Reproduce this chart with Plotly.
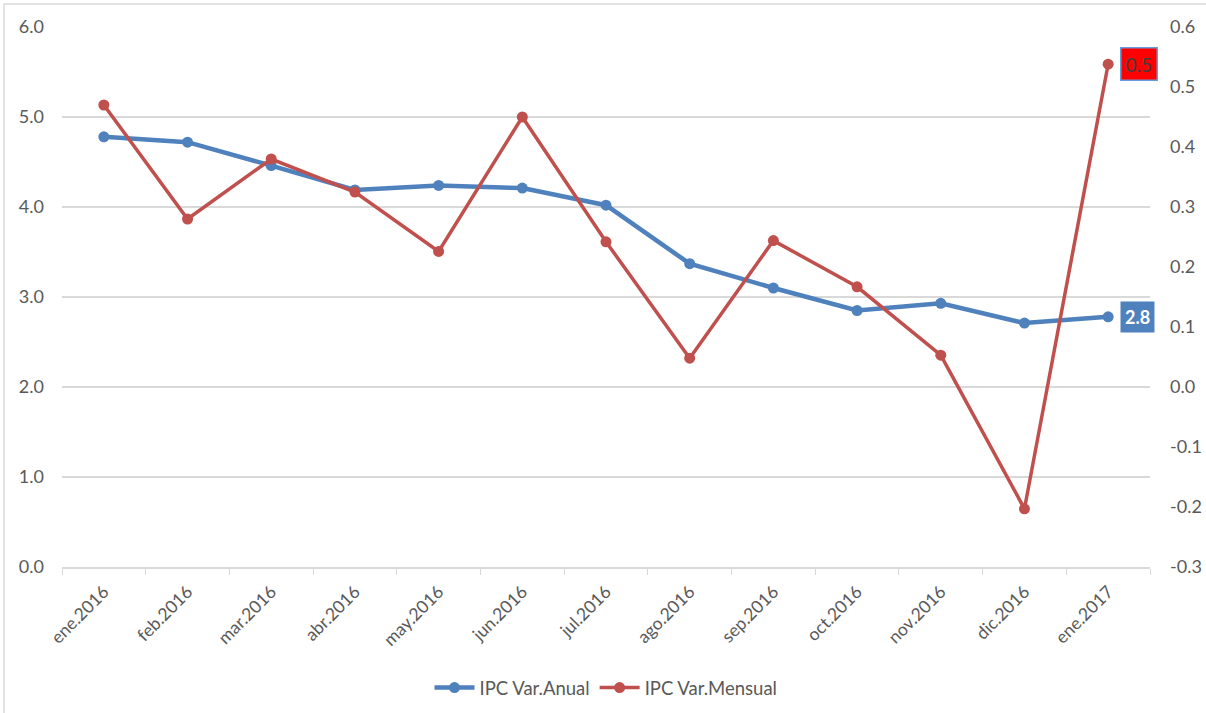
import plotly.graph_objects as go

categories = ["ene.2016", "feb.2016", "mar.2016", "abr.2016", "may.2016", "jun.2016",
              "jul.2016", "ago.2016", "sep.2016", "oct.2016", "nov.2016", "dic.2016", "ene.2017"]
ipc_anual = [4.78, 4.72, 4.46, 4.19, 4.24, 4.21, 4.02, 3.37, 3.10, 2.85, 2.93, 2.71, 2.78]
ipc_mensual = [0.47, 0.28, 0.38, 0.325, 0.226, 0.45, 0.242, 0.048, 0.244, 0.167, 0.053, -0.203, 0.538]
left_ticks = [0, 1, 2, 3, 4, 5, 6]
right_ticks = [-0.3, -0.2, -0.1, 0.0, 0.1, 0.2, 0.3, 0.4, 0.5, 0.6]

BLUE = "#4F81BD"
RED = "#C0504D"
GRID = "#D9D9D9"
TXT = "#595959"
FONT = "Lato"

fig = go.Figure()
fig.add_trace(go.Scatter(x=categories, y=ipc_anual, name="IPC Var.Anual", mode="lines+markers",
                         line=dict(color=BLUE, width=4.5), marker=dict(size=11, color=BLUE)))
fig.add_trace(go.Scatter(x=categories, y=ipc_mensual, name="IPC Var.Mensual", mode="lines+markers",
                         line=dict(color=RED, width=3.5), marker=dict(size=11, color=RED), yaxis="y2"))

L, R, T, B = 62, 56, 27, 146
W, H = 1206, 713
pw, ph = W - L - R, H - T - B

fig.update_layout(
    width=W, height=H,
    margin=dict(l=L, r=R, t=T, b=B, autoexpand=False),
    paper_bgcolor="white", plot_bgcolor="white",
    font=dict(family=FONT, size=18, color=TXT),
    xaxis=dict(type="category", range=[-0.5, 12.5], tickson="boundaries", ticks="outside",
               ticklen=6, tickcolor=GRID, showgrid=False, showline=True, linecolor=GRID, linewidth=1.5,
               tickangle=-45, tickfont=dict(size=17.5, color=TXT), ticklabelstandoff=6, automargin=False),
    yaxis=dict(range=[0, 6], tickvals=left_ticks, ticktext=[f"{v:.1f}" for v in left_ticks],
               showgrid=True, gridcolor=GRID, gridwidth=1.5, zeroline=False, showline=False,
               ticks="", ticklabelstandoff=17, tickfont=dict(size=18, color=TXT), automargin=False),
    yaxis2=dict(range=[-0.3, 0.6], overlaying="y", side="right", tickvals=right_ticks,
                ticktext=[f"{v:.1f}" if abs(v) > 1e-9 else "0.0" for v in right_ticks],
                showgrid=False, zeroline=False, showline=False, ticks="", ticklabelstandoff=19,
                tickfont=dict(size=18, color=TXT), automargin=False),
    legend=dict(orientation="h", x=0.5, xanchor="center", y=(567 - 688) / ph, yanchor="middle",
                font=dict(size=18.5, color=TXT), itemwidth=40),
    showlegend=True,
)

# data labels for last points
fig.add_annotation(x=categories[-1], y=ipc_anual[-1], xref="x", yref="y",
                   text="<b>%.1f</b>" % ipc_anual[-1], showarrow=False, xanchor="left", xshift=12,
                   bgcolor=BLUE, font=dict(color="white", size=18, family=FONT), borderpad=4)
fig.add_annotation(x=categories[-1], y=ipc_mensual[-1], xref="x", yref="y2",
                   text="%.1f" % ipc_mensual[-1], showarrow=False, xanchor="left", xshift=12,
                   bgcolor="#FF0000", bordercolor="#6A9BD8", borderwidth=1.5,
                   font=dict(color="#404040", size=19, family=FONT), borderpad=4)

# cut-off title fragment at top
fig.add_annotation(x=(642 - L) / pw, y=1 + (T + 3) / ph, xref="paper", yref="paper",
                   text="<b>y</b>", showarrow=False, yanchor="bottom", xanchor="center",
                   font=dict(size=20, color="#404040", family=FONT))

# chart frame
fig.add_shape(type="rect", xref="paper", yref="paper",
              x0=(4 - L) / pw, x1=(W + 10 - L) / pw, y0=-(H + 10 - T - ph) / ph, y1=1 + (T - 4) / ph,
              line=dict(color=GRID, width=1.5), fillcolor="rgba(0,0,0,0)", layer="below")

fig.write_html("out.html", config={"displayModeBar": False})

# remove the default browser body margin so the figure sits at the page origin
with open("out.html", "r", encoding="utf-8") as f:
    html = f.read()
html = html.replace("<head>", "<head><style>html,body{margin:0;padding:0;overflow:hidden;}</style>", 1)
with open("out.html", "w", encoding="utf-8") as f:
    f.write(html)
